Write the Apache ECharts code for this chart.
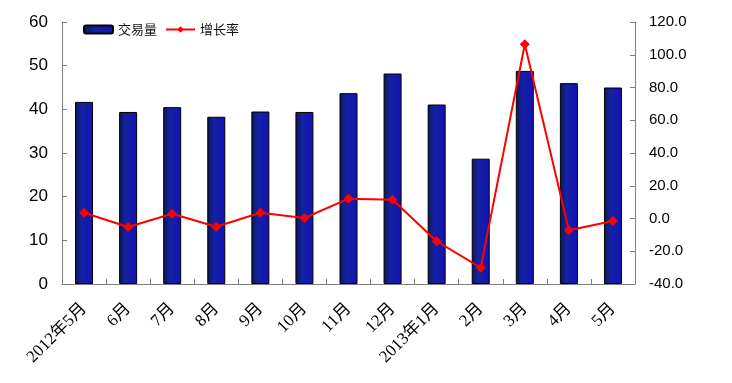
<!DOCTYPE html>
<html>
<head>
<meta charset="utf-8">
<script src="https://cdn.jsdelivr.net/npm/echarts@6/dist/echarts.min.js"></script>
<style>html,body{margin:0;padding:0;background:#fff;}#c{width:732px;height:383px;}</style>
</head>
<body>
<div id="c"></div>
<script>
const categories = ['2012年5月','6月','7月','8月','9月','10月','11月','12月','2013年1月','2月','3月','4月','5月'];
const volume = [41.7, 39.4, 40.5, 38.3, 39.5, 39.4, 43.7, 48.2, 41.1, 28.7, 48.8, 46.0, 45.0];
const growth = [3.5, -5.2, 2.9, -5.0, 3.5, 0.3, 12.1, 11.5, -13.9, -30.0, 106.4, -7.2, -1.5];
const leftTicks = {min: 0, max: 60, interval: 10};
const rightTicks = {min: -40, max: 120, interval: 20};

const chart = echarts.init(document.getElementById('c'), null, {renderer: 'canvas'});
const axisLine = {show: true, lineStyle: {color: '#7f7f7f', width: 1}};
chart.setOption({
  animation: false,
  backgroundColor: '#fff',
  grid: {left: 62, right: 97, top: 22, bottom: 99, containLabel: false},
  legend: {
    top: 18, left: 78, itemWidth: 29, itemHeight: 8, itemGap: 8,
    textStyle: {fontSize: 13, color: '#111', fontFamily: 'Noto Sans CJK SC'},
    data: [{name: '交易量'}, {name: '增长率'}]
  },
  xAxis: {
    type: 'category', data: categories, boundaryGap: true,
    axisLine: axisLine,
    axisTick: {show: true, inside: true, length: 5, lineStyle: {color: '#7f7f7f'}},
    axisLabel: {rotate: 45, interval: 0, margin: 22, fontSize: 17, color: '#000',
      fontFamily: "'Liberation Serif', 'Noto Sans CJK SC', serif"}
  },
  yAxis: [
    {type: 'value', min: leftTicks.min, max: leftTicks.max, interval: leftTicks.interval,
      axisLine: axisLine, splitLine: {show: false},
      axisTick: {show: true, inside: true, length: 5, lineStyle: {color: '#7f7f7f'}},
      axisLabel: {fontSize: 17, color: '#000', margin: 14, fontFamily: "'Liberation Sans', Arial, sans-serif"}},
    {type: 'value', min: rightTicks.min, max: rightTicks.max, interval: rightTicks.interval,
      position: 'right',
      axisLine: axisLine, splitLine: {show: false},
      axisTick: {show: true, inside: true, length: 5, lineStyle: {color: '#7f7f7f'}},
      axisLabel: {fontSize: 15, color: '#000', margin: 14, fontFamily: "'Liberation Sans', Arial, sans-serif",
        formatter: v => v.toFixed(1)}}
  ],
  series: [
    {name: '交易量', type: 'bar', data: volume, barWidth: 18, yAxisIndex: 0,
      itemStyle: {
        color: new echarts.graphic.LinearGradient(0, 0, 1, 0, [
          {offset: 0, color: '#0b1850'}, {offset: 0.35, color: '#1522a0'}, {offset: 1, color: '#1212b8'}
        ]),
        borderColor: '#000', borderWidth: 1
      }},
    {name: '增长率', type: 'line', data: growth, yAxisIndex: 1,
      symbol: 'diamond', symbolSize: 10,
      lineStyle: {color: '#ff0000', width: 2},
      itemStyle: {color: '#ff0000'}}
  ]
});
</script>
</body>
</html>
